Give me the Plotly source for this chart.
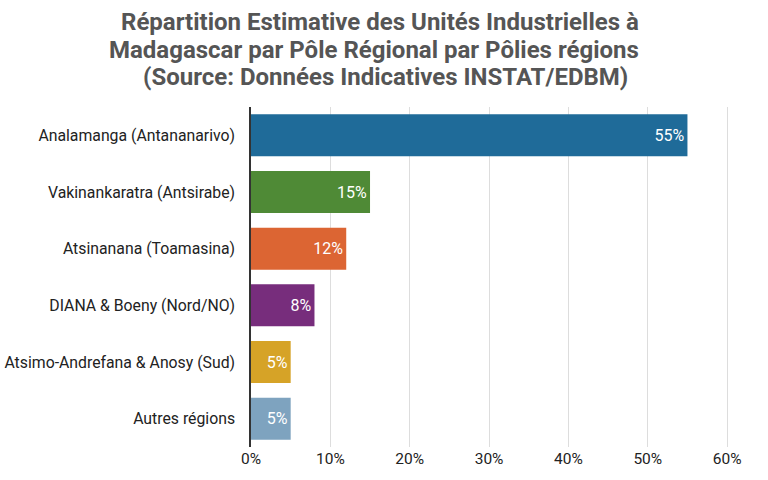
import plotly.graph_objects as go

categories = [
    "Analamanga (Antananarivo)",
    "Vakinankaratra (Antsirabe)",
    "Atsinanana (Toamasina)",
    "DIANA & Boeny (Nord/NO)",
    "Atsimo-Andrefana & Anosy (Sud)",
    "Autres régions",
]
values = [55, 15, 12, 8, 5, 5]
labels = [f"{v}%" for v in values]
colors = ["#1f6b99", "#4f8a36", "#dc6533", "#772d7c", "#d6a327", "#7ea3bf"]
tick_vals = [0, 10, 20, 30, 40, 50, 60]
tick_text = [f"{t}%" for t in tick_vals]
title_lines = [
    "Répartition Estimative des Unités Industrielles à",
    "Madagascar par Pôle Régional par Pôlies régions",
    "(Source: Données Indicatives INSTAT/EDBM)",
]

fig = go.Figure(go.Bar(
    x=values,
    y=categories,
    orientation="h",
    marker=dict(color=colors, line=dict(width=0)),
    text=labels,
    textposition="inside",
    insidetextanchor="end",
    textfont=dict(color="white", size=16, family="Roboto"),
    cliponaxis=False,
))

W, H = 768, 480
left, right, top, bottom = 251, 25, 107, 33
plot_w = W - left - right
plot_h = H - top - bottom
title_y_px = [22, 50, 77]
title_x_px = [380, 374, 385]
annotations = []
for line, ypx, xpx in zip(title_lines, title_y_px, title_x_px):
    annotations.append(dict(
        text=f"<b>{line}</b>",
        xref="paper", yref="paper",
        x=(xpx - left) / plot_w, y=(H - bottom - ypx) / plot_h,
        xanchor="center", yanchor="middle",
        showarrow=False,
        font=dict(family="Roboto", size=24, color="#555555"),
    ))

fig.update_layout(
    width=W,
    height=H,
    paper_bgcolor="white",
    plot_bgcolor="white",
    margin=dict(l=left, r=right, t=top, b=bottom, autoexpand=False),
    bargap=0.26,
    showlegend=False,
    annotations=annotations,
    font=dict(family="Roboto", color="#222222"),
)

fig.update_xaxes(
    range=[0, 62],
    tickvals=tick_vals,
    ticktext=tick_text,
    showgrid=True,
    gridcolor="#dddddd",
    gridwidth=1,
    zeroline=False,
    showline=False,
    ticks="",
    automargin=False,
    tickfont=dict(size=15.5, color="#222222"),
)
fig.update_yaxes(
    categoryorder="array",
    categoryarray=categories[::-1],
    showline=True,
    linecolor="#333333",
    linewidth=1.5,
    ticks="",
    ticklabelstandoff=11,
    automargin=False,
    tickfont=dict(size=15.8, color="#222222"),
)

fig.write_html(
    "out.html",
    config={"displayModeBar": False},
    post_script="document.body.style.margin='0';",
)
